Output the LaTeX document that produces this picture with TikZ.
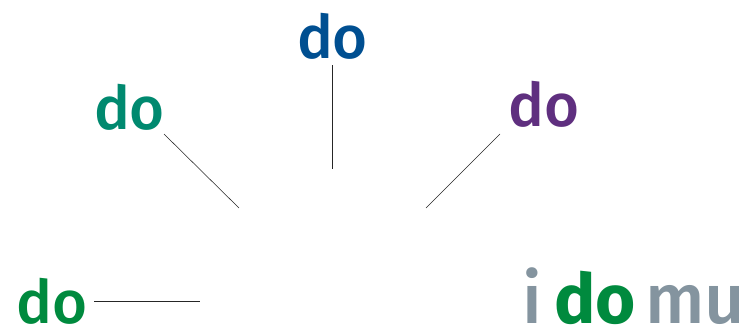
\documentclass[tikz,border=0pt]{standalone}
\usepackage{fontspec}
\setmainfont{Fira Sans}
\newfontfamily\medfont{Fira Sans Medium}
\definecolor{cteal}{HTML}{00896F}
\definecolor{cblue}{HTML}{004F91}
\definecolor{cpurple}{HTML}{5F2F7F}
\definecolor{cgreen}{HTML}{008A3E}
\definecolor{cgray}{HTML}{84949F}
\tikzset{word/.style={inner sep=0pt,font=\fontsize{60}{66}\selectfont\medfont},
 bigword/.style={inner sep=0pt,font=\fontsize{70}{74}\selectfont\medfont},
 link/.style={draw=black!85,line width=0.55pt}}
\begin{document}
\begin{tikzpicture}[x=1pt,y=-1pt]
\useasboundingbox (0,0) rectangle (745,330);
\node[word,text=cteal,anchor=base] (a) at (129.5,129) {do};
\node[word,text=cblue,anchor=base] (b) at (332.5,58) {do};
\node[word,text=cpurple,anchor=base] (c) at (544,126) {do};
\node[word,text=cgreen,anchor=base] (d) at (52,323) {do};
\node[bigword,text=cgray,anchor=base west] (e) at (522,323) {i};
\node[bigword,text=cgreen,anchor=base west,font=\fontsize{69}{74}\selectfont\bfseries] (f) at (554,323) {do};
\node[bigword,text=cgray,anchor=base west] (g) at (645,323) {mu};
\coordinate (a1) at (239,208);
\coordinate (b1) at (332,169);
\coordinate (c1) at (426,208);
\coordinate (d1) at (200,301);
\coordinate (a0) at (164,134);
\coordinate (b0) at (332,65);
\coordinate (c0) at (500,134);
\coordinate (d0) at (94,301);
\draw[link] (a0) -- (a1);
\draw[link] (b0) -- (b1);
\draw[link] (c0) -- (c1);
\draw[link] (d0) -- (d1);
\end{tikzpicture}
\end{document}
